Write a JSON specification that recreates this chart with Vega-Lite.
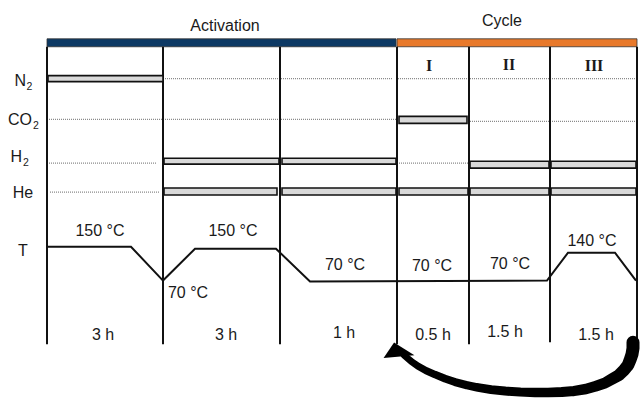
{
  "$schema": "https://vega.github.io/schema/vega-lite/v6.json",
  "width": 640,
  "height": 398,
  "padding": 0,
  "autosize": {"type": "fit", "contains": "padding"},
  "background": "white",
  "config": {"view": {"stroke": null}},
  "encoding": {
    "x": {"field": "x", "type": "quantitative", "axis": null, "scale": {"domain": [0, 640], "nice": false, "zero": false}},
    "y": {"field": "y", "type": "quantitative", "axis": null, "scale": {"domain": [0, 398], "nice": false, "zero": false, "reverse": true}}
  },
  "layer": [
    {
      "description": "phase header bands",
      "data": {"values": [
        {"phase": "Activation", "x": 47, "x2": 396, "y": 39, "y2": 47},
        {"phase": "Cycle", "x": 397, "x2": 637, "y": 39, "y2": 47}
      ]},
      "mark": {"type": "rect", "stroke": "#333", "strokeWidth": 0.8},
      "encoding": {
        "x2": {"field": "x2"},
        "y2": {"field": "y2"},
        "color": {"field": "phase", "type": "nominal", "legend": null,
          "scale": {"domain": ["Activation", "Cycle"], "range": ["#0d3964", "#e8792b"]}}
      }
    },
    {
      "description": "dotted guide lines for each gas row",
      "data": {"values": [
        {"gas": "N2", "x": 165, "x2": 393, "y": 79},
        {"gas": "N2", "x": 398, "x2": 636, "y": 79},
        {"gas": "CO2", "x": 49, "x2": 396, "y": 120},
        {"gas": "CO2", "x": 470, "x2": 636, "y": 122},
        {"gas": "H2", "x": 49, "x2": 157, "y": 164},
        {"gas": "H2", "x": 399, "x2": 468, "y": 164},
        {"gas": "He", "x": 50, "x2": 160, "y": 193}
      ]},
      "mark": {"type": "rule", "color": "#8a8a8a", "strokeWidth": 1.2, "strokeDash": [1, 1]},
      "encoding": {"x2": {"field": "x2"}}
    },
    {
      "description": "step boundaries",
      "data": {"values": [
        {"x": 47, "y": 47, "y2": 346},
        {"x": 163, "y": 47, "y2": 346},
        {"x": 280, "y": 47, "y2": 346},
        {"x": 397, "y": 47, "y2": 346},
        {"x": 469, "y": 47, "y2": 346},
        {"x": 550, "y": 47, "y2": 344},
        {"x": 637, "y": 47, "y2": 344}
      ]},
      "mark": {"type": "rule", "color": "#111", "strokeWidth": 2},
      "encoding": {"y2": {"field": "y2"}}
    },
    {
      "description": "temperature programme",
      "data": {"values": [
        {"i": 0, "x": 47, "y": 248},
        {"i": 1, "x": 131, "y": 248},
        {"i": 2, "x": 163, "y": 282},
        {"i": 3, "x": 195, "y": 250},
        {"i": 4, "x": 276, "y": 250},
        {"i": 5, "x": 310, "y": 283},
        {"i": 6, "x": 547, "y": 282},
        {"i": 7, "x": 568, "y": 254},
        {"i": 8, "x": 615, "y": 254},
        {"i": 9, "x": 636, "y": 282}
      ]},
      "mark": {"type": "line", "color": "#111", "strokeWidth": 2},
      "encoding": {"order": {"field": "i", "type": "quantitative"}}
    },
    {
      "description": "gas flow periods",
      "data": {"values": [
        {"gas": "N2", "x": 48, "x2": 163, "y": 76, "y2": 82},
        {"gas": "CO2", "x": 399, "x2": 467, "y": 117, "y2": 124},
        {"gas": "H2", "x": 164, "x2": 279, "y": 159, "y2": 165},
        {"gas": "H2", "x": 282, "x2": 396, "y": 159, "y2": 165},
        {"gas": "H2", "x": 470, "x2": 549, "y": 162, "y2": 169},
        {"gas": "H2", "x": 551, "x2": 636, "y": 162, "y2": 169},
        {"gas": "He", "x": 164, "x2": 277, "y": 189, "y2": 196},
        {"gas": "He", "x": 282, "x2": 396, "y": 189, "y2": 196},
        {"gas": "He", "x": 399, "x2": 468, "y": 189, "y2": 196},
        {"gas": "He", "x": 470, "x2": 549, "y": 189, "y2": 196},
        {"gas": "He", "x": 551, "x2": 636, "y": 189, "y2": 196}
      ]},
      "mark": {"type": "rect", "fill": "#d9d9d9", "stroke": "#111", "strokeWidth": 1.6},
      "encoding": {"x2": {"field": "x2"}, "y2": {"field": "y2"}}
    },
    {
      "description": "return arrow shaft, tapering from right to left",
      "data": {"values": [
        {"i": 0, "x": 633, "y": 344, "w": 13},
        {"i": 1, "x": 633, "y": 350, "w": 13},
        {"i": 2, "x": 632, "y": 356, "w": 13},
        {"i": 3, "x": 630, "y": 362, "w": 12.8},
        {"i": 4, "x": 628, "y": 367, "w": 12.5},
        {"i": 5, "x": 624, "y": 372, "w": 12.2},
        {"i": 6, "x": 619, "y": 377, "w": 12},
        {"i": 7, "x": 612, "y": 381, "w": 11.5},
        {"i": 8, "x": 605, "y": 385, "w": 11},
        {"i": 9, "x": 596, "y": 388, "w": 10.8},
        {"i": 10, "x": 586, "y": 391, "w": 10.5},
        {"i": 11, "x": 574, "y": 393, "w": 10.2},
        {"i": 12, "x": 562, "y": 394, "w": 10},
        {"i": 13, "x": 548, "y": 394.5, "w": 9.7},
        {"i": 14, "x": 535, "y": 394.5, "w": 9.5},
        {"i": 15, "x": 520, "y": 394, "w": 9.2},
        {"i": 16, "x": 505, "y": 393, "w": 9},
        {"i": 17, "x": 491, "y": 391.5, "w": 8.8},
        {"i": 18, "x": 478, "y": 389.5, "w": 8.5},
        {"i": 19, "x": 466, "y": 387, "w": 8.2},
        {"i": 20, "x": 455, "y": 384, "w": 8},
        {"i": 21, "x": 445, "y": 380.5, "w": 7.8},
        {"i": 22, "x": 435, "y": 376.5, "w": 7.5},
        {"i": 23, "x": 426, "y": 372.5, "w": 7.2},
        {"i": 24, "x": 418, "y": 368, "w": 7},
        {"i": 25, "x": 411, "y": 363, "w": 6.8},
        {"i": 26, "x": 404, "y": 357, "w": 6.5}
      ]},
      "mark": {"type": "trail", "color": "#000"},
      "encoding": {
        "order": {"field": "i", "type": "quantitative"},
        "size": {"field": "w", "type": "quantitative", "scale": null, "legend": null}
      }
    },
    {
      "description": "return arrow head",
      "data": {"values": [{"x": 399, "y": 352}]},
      "mark": {"type": "point", "shape": "M-0.32,-0.5L-1,0.5L1,0.32Z", "size": 950, "filled": true, "color": "#000", "opacity": 1}
    },
    {
      "description": "headers, temperatures and durations",
      "data": {"values": [
        {"label": "Activation", "x": 225, "y": 26},
        {"label": "Cycle", "x": 502, "y": 21},
        {"label": "150 °C", "x": 100, "y": 232},
        {"label": "150 °C", "x": 233, "y": 232},
        {"label": "70 °C", "x": 188, "y": 294},
        {"label": "70 °C", "x": 345, "y": 266},
        {"label": "70 °C", "x": 432, "y": 267},
        {"label": "70 °C", "x": 510, "y": 265},
        {"label": "140 °C", "x": 592, "y": 242},
        {"label": "3 h", "x": 103, "y": 337},
        {"label": "3 h", "x": 226, "y": 337},
        {"label": "1 h", "x": 344, "y": 335},
        {"label": "0.5 h", "x": 433, "y": 337},
        {"label": "1.5 h", "x": 505, "y": 334},
        {"label": "1.5 h", "x": 596, "y": 337},
        {"label": "He", "x": 23, "y": 194},
        {"label": "T", "x": 23, "y": 252}
      ]},
      "mark": {"type": "text", "font": "Liberation Sans", "fontSize": 16, "color": "#1a1a1a", "align": "center", "baseline": "middle"},
      "encoding": {"text": {"field": "label"}}
    },
    {
      "description": "gas names (main part)",
      "data": {"values": [
        {"label": "N", "x": 26, "y": 81},
        {"label": "CO", "x": 32, "y": 121},
        {"label": "H", "x": 22, "y": 158}
      ]},
      "mark": {"type": "text", "font": "Liberation Sans", "fontSize": 16, "color": "#1a1a1a", "align": "right", "baseline": "middle"},
      "encoding": {"text": {"field": "label"}}
    },
    {
      "description": "gas names (subscripts)",
      "data": {"values": [
        {"label": "2", "x": 26.5, "y": 87},
        {"label": "2", "x": 33, "y": 127},
        {"label": "2", "x": 23, "y": 164}
      ]},
      "mark": {"type": "text", "font": "Liberation Sans", "fontSize": 10.5, "color": "#1a1a1a", "align": "left", "baseline": "middle"},
      "encoding": {"text": {"field": "label"}}
    },
    {
      "description": "cycle step numerals",
      "data": {"values": [
        {"label": "I", "x": 429, "y": 66},
        {"label": "II", "x": 509, "y": 65},
        {"label": "III", "x": 594, "y": 66}
      ]},
      "mark": {"type": "text", "font": "Liberation Serif", "fontWeight": "bold", "fontSize": 16, "color": "#1a1a1a", "align": "center", "baseline": "middle"},
      "encoding": {"text": {"field": "label"}}
    }
  ]
}
